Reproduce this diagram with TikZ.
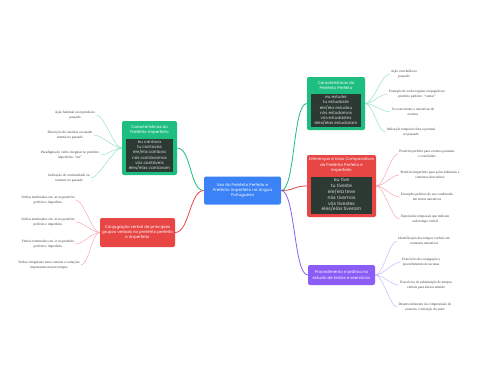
\documentclass[tikz,border=0pt]{standalone}
\usepackage{fontspec}
\setmainfont{Liberation Serif}
\newfontfamily\nodefont{Poppins}
\usepackage{xcolor}
\usepackage{tikz}

\definecolor{centerblue}{HTML}{3B82F6}
\definecolor{topicgreen}{HTML}{1DBE80}
\definecolor{topicred}{HTML}{E84545}
\definecolor{topicpurple}{HTML}{8B5CF6}
\definecolor{boxdark}{HTML}{2D3A34}
\definecolor{linegreen}{HTML}{8EE0C6}
\definecolor{linered}{HTML}{F5A3AC}
\definecolor{linepurple}{HTML}{C4B5FD}

\tikzset{
  leaf/.style={font=\fontsize{3.5}{4.7}\selectfont, text=black!75, align=center, inner sep=1pt},
  topic/.style={rounded corners=2pt, inner sep=0pt, text=white, align=center,
    font=\nodefont\fontsize{4}{5.2}\selectfont},
  topictitle/.style={text=white, align=center, inner sep=0pt,
    font=\nodefont\fontsize{4}{5.2}\selectfont},
  darkbox/.style={fill=boxdark, inner sep=0pt, text=white!85!black, align=center,
    font=\nodefont\fontsize{4.1}{5.3}\selectfont},
  mainline/.style={line width=0.8pt},
  leafline/.style={line width=0.45pt}
}

\begin{document}
\begin{tikzpicture}[x=1pt, y=-1pt]
  \useasboundingbox[fill=white] (0,0) rectangle (480,384);

  % central topic
  \node[topic, fill=centerblue, minimum width=77, minimum height=28] (main) at (242.5,190.5)
    {Uso do Pretérito Perfeito e\\Pretérito Imperfeito na Língua\\Portuguesa};

  % left: imperfeito
  \node[topic, fill=topicgreen, minimum width=55, minimum height=54] (pim) at (149.5,148) {};
  \node[topictitle] (pimt) at (149.5,130) {Características do\\Pretérito Imperfeito};
  \node[darkbox, minimum width=47, minimum height=33] (pimb) at (149.5,155.5)
    {eu cantava\\tu cantavas\\ele/ela cantava\\nós cantávamos\\vós cantáveis\\eles/elas cantavam};

  \node[leaf] (pim1) at (75,115) {Ação habitual ou repetida no\\passado};
  \node[leaf] (pim2) at (70,135) {Descrição de cenários ou estado\\mental no passado};
  \node[leaf] (pim3) at (70,155) {Paradigma do verbo irregular no pretérito\\imperfeito: ``ser''};
  \node[leaf] (pim4) at (69,178) {Indicação de continuidade ou\\costume no passado};

  % left: conjugacao
  \node[topic, fill=topicred, minimum width=75, minimum height=29] (conj) at (137.5,232.5)
    {Conjugação verbal de principais\\grupos verbais no pretérito perfeito\\e imperfeito};

  \node[leaf] (conj1) at (48,200) {Verbos terminados em -ar no pretérito\\perfeito e imperfeito};
  \node[leaf] (conj2) at (48,222) {Verbos terminados em -er no pretérito\\perfeito e imperfeito};
  \node[leaf] (conj3) at (48,244) {Verbos terminados em -ir no pretérito\\perfeito e imperfeito};
  \node[leaf] (conj4) at (49,265) {Verbos irregulares mais comuns e variações\\importantes nesses tempos};

  % right: perfeito
  \node[topic, fill=topicgreen, minimum width=58, minimum height=53] (pp) at (336,103.5) {};
  \node[topictitle] (ppt) at (336,85.5) {Características do\\Pretérito Perfeito};
  \node[darkbox, minimum width=50, minimum height=33] (ppb) at (336,110.5)
    {eu estudei\\tu estudaste\\ele/ela estudou\\nós estudamos\\vós estudastes\\eles/elas estudaram};

  \node[leaf] (pp1) at (404,74) {Ação concluída no\\passado};
  \node[leaf] (pp2) at (417,94) {Exemplo de verbo regular conjugado no\\pretérito perfeito: ``cantar''};
  \node[leaf] (pp3) at (413,112) {Uso em relatos e narrativas de\\eventos};
  \node[leaf] (pp4) at (411,132) {Indicação temporal clara e pontual\\no passado};

  % right: diferencas
  \node[topic, fill=topicred, minimum width=69, minimum height=62] (dif) at (341.5,186) {};
  \node[topictitle] (dift) at (341.5,165) {Diferenças e Usos Comparativos\\do Pretérito Perfeito e\\Imperfeito};
  \node[darkbox, minimum width=61, minimum height=37,
    font=\nodefont\fontsize{4.6}{5.8}\selectfont] (difb) at (341.5,195)
    {eu tive\\tu tiveste\\ele/ela teve\\nós tivemos\\vós tivestes\\eles/elas tiveram};

  \node[leaf] (dif1) at (427,154) {Pretérito perfeito para eventos pontuais\\e concluídos};
  \node[leaf] (dif2) at (430,175) {Pretérito imperfeito para ações habituais e\\contextos descritivos};
  \node[leaf] (dif3) at (427,197) {Exemplos práticos de uso combinado\\em textos narrativos};
  \node[leaf] (dif4) at (425,219) {Expressões temporais que indicam\\cada tempo verbal};

  % right: pratica
  \node[topic, fill=topicpurple, minimum width=67, minimum height=20] (pra) at (341.5,275)
    {Procedimento e prática no\\estudo de textos e exercícios};

  \node[leaf] (pra1) at (424,241) {Identificação dos tempos verbais em\\contextos narrativos};
  \node[leaf] (pra2) at (421,262) {Exercícios de conjugação e\\preenchimento de lacunas};
  \node[leaf] (pra3) at (426,285) {Exercícios de substituição de tempos\\verbais para alterar sentido};
  \node[leaf] (pra4) at (425,307) {Desenvolvimento da compreensão do\\contexto e intenção do autor};

  % main connectors
  \draw[mainline, topicgreen] (main.west) .. controls +(-14,0) and +(14,0) .. (pim.east);
  \draw[mainline, topicred] (main.west) .. controls +(-14,0) and +(14,0) .. (conj.east);
  \draw[mainline, topicgreen] (main.east) .. controls +(14,0) and +(-14,0) .. (pp.west);
  \draw[mainline, topicred] (main.east) .. controls +(14,0) and +(-14,0) .. (dif.west);
  \draw[mainline, topicpurple] (main.east) .. controls +(14,0) and +(-14,0) .. (pra.west);

  % leaf connectors
  \foreach \n in {1,...,4} {
    \draw[leafline, linegreen] (pim.west) .. controls +(-8,0) and +(8,0) .. (pim\n.east);
    \draw[leafline, linered] (conj.west) .. controls +(-8,0) and +(8,0) .. (conj\n.east);
    \draw[leafline, linegreen] (pp.east) .. controls +(8,0) and +(-8,0) .. (pp\n.west);
    \draw[leafline, linered] (dif.east) .. controls +(8,0) and +(-8,0) .. (dif\n.west);
    \draw[leafline, linepurple] (pra.east) .. controls +(8,0) and +(-8,0) .. (pra\n.west);
  }
\end{tikzpicture}
\end{document}
